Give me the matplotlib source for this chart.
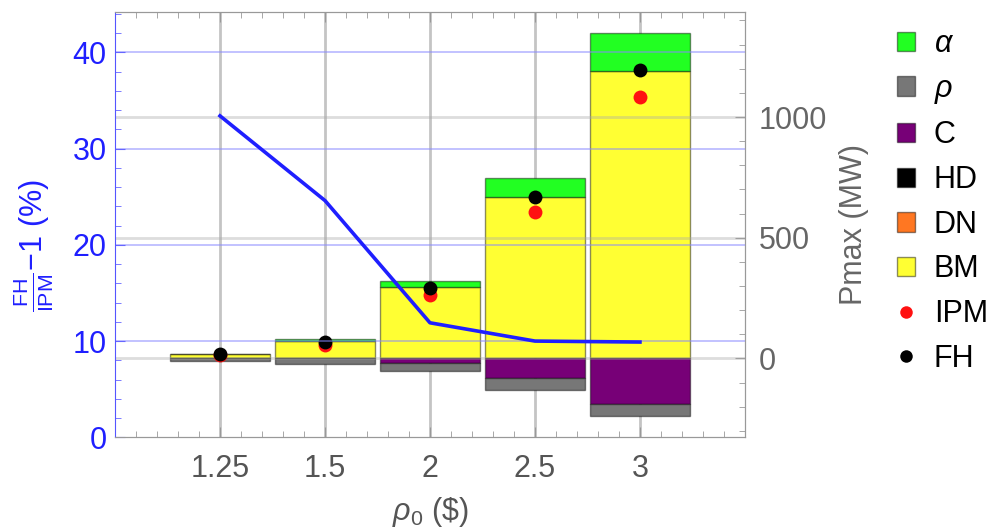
import numpy as np
import matplotlib
matplotlib.use('Agg')
import matplotlib.pyplot as plt
from matplotlib.patches import Patch
from matplotlib.lines import Line2D
from matplotlib.ticker import MultipleLocator, FixedLocator

plt.rcParams['font.family'] = ['Liberation Sans', 'DejaVu Sans']
plt.rcParams['mathtext.fontset'] = 'custom'
plt.rcParams['mathtext.rm'] = 'Liberation Sans'
plt.rcParams['mathtext.it'] = 'Liberation Sans:italic'
plt.rcParams['font.size'] = 22

# dados
rho0 = ['1.25', '1.5', '2', '2.5', '3']
gap_pct = [33.4, 24.6, 11.9, 10.0, 9.9]       # FH/IPM - 1 (%)
bm = [18, 73, 295, 668, 1192]                  # Pmax (MW)
dn = [0, 0, 0, 0, 0]
hd = [0, 0, 0, 0, 0]
alpha_mw = [2, 9, 26, 79, 157]
c_mw = [0, 0, -20, -80, -191]
rho_mw = [-11, -23, -31, -49, -48]
ipm = [15, 55, 264, 607, 1084]
fh = [20, 69, 293, 668, 1196]

col = {'alpha': '#22ff22', 'rho': '#777777', 'C': '#770077', 'HD': '#000000',
       'DN': '#ff7722', 'BM': '#ffff33'}
edge = (0, 0, 0, 0.45)
blue = '#1f1fff'

x = np.arange(1, len(rho0) + 1)
w = 0.96

fig = plt.figure(figsize=(9.93, 5.29), dpi=100)
ax = fig.add_axes([0.1158, 0.1733, 0.6344, 0.804])
ax2 = ax.twinx()
ax.set_zorder(ax2.get_zorder() + 1)
ax.patch.set_visible(False)

# barras empilhadas (eixo direito)
for xi in x:
    ax2.axvline(xi, color='#c4c4c4', lw=2, zorder=0)
ax2.bar(x, bm, width=w, color=col['BM'], edgecolor=edge, lw=1, zorder=2)
b = np.array(bm)
ax2.bar(x, dn, bottom=b, width=w, color=col['DN'], edgecolor=edge, lw=0, zorder=2)
b = b + np.array(dn)
ax2.bar(x, hd, bottom=b, width=w, color=col['HD'], edgecolor=edge, lw=0, zorder=2)
b = b + np.array(hd)
ax2.bar(x, alpha_mw, bottom=b, width=w, color=col['alpha'], edgecolor=edge, lw=1, zorder=2)
ax2.bar(x, c_mw, width=w, color=col['C'], edgecolor=edge, lw=1, zorder=2)
ax2.bar(x, rho_mw, bottom=c_mw, width=w, color=col['rho'], edgecolor=edge, lw=1, zorder=2)
ax2.scatter(x, ipm, s=100, color='#ff1111', zorder=5, linewidths=0)
ax2.scatter(x, fh, s=100, color='black', zorder=6, linewidths=0)
for v in [0, 500, 1000]:
    ax2.axhline(v, color='#aaaaaa', lw=2, alpha=0.4, zorder=3)

# linha azul (eixo esquerdo)
for v in [10, 20, 30, 40]:
    ax.axhline(v, color='#8888ff', lw=1.3, alpha=0.55, zorder=1)
ax.plot(x, gap_pct, color=blue, lw=2.6, zorder=4)

ax.set_xlim(0, 6)
ax.set_ylim(0, 44.19)
ax2.set_ylim(-327, 1435)

ax.xaxis.set_major_locator(FixedLocator(x))
ax.set_xticklabels(rho0)
ax.xaxis.set_minor_locator(MultipleLocator(0.2))
ax.yaxis.set_major_locator(MultipleLocator(10))
ax.yaxis.set_minor_locator(MultipleLocator(2))
ax2.yaxis.set_major_locator(FixedLocator([0, 500, 1000]))
ax2.yaxis.set_minor_locator(MultipleLocator(100))

ax.tick_params(axis='x', which='both', direction='in', top=True, color='#999999',
               labelcolor='#555555', labelsize=22, pad=12)
ax.tick_params(axis='x', which='major', length=7)
ax.tick_params(axis='x', which='minor', length=4)
ax.tick_params(axis='y', which='both', direction='in', right=False, color='#6666ff',
               labelcolor=blue, labelsize=22, pad=6)
ax.tick_params(axis='y', which='major', length=7)
ax.tick_params(axis='y', which='minor', length=4)
ax2.tick_params(axis='y', which='both', direction='in', color='#999999',
                labelcolor='#666666', labelsize=22, pad=10)
ax2.tick_params(axis='y', which='major', length=7)
ax2.tick_params(axis='y', which='minor', length=4)

for s in ['top', 'bottom', 'right']:
    ax.spines[s].set_color('#999999')
    ax2.spines[s].set_color('#999999')
ax.spines['left'].set_color('#5555ff')
ax2.spines['left'].set_visible(False)

ax.set_xlabel(r'$\rho_0$ (\$)', color='#555555', fontsize=22)
ax.xaxis.set_label_coords(0.5, -0.135)
ax.set_ylabel(r'$\frac{\mathrm{FH}}{\mathrm{IPM}}$' + '\u22121 (%)', color=blue, fontsize=22)
ax.yaxis.set_label_coords(-0.093, 0.45)
ax2.set_ylabel('Pmax (MW)', color='#666666', fontsize=22)
ax2.yaxis.set_label_coords(1.15, 0.5)

handles = [Patch(facecolor=col[k], edgecolor=edge, lw=1) for k in ['alpha', 'rho', 'C', 'HD', 'DN', 'BM']]
handles += [Line2D([], [], ls='', marker='o', markersize=9, color='#ff1111', markeredgewidth=0),
            Line2D([], [], ls='', marker='o', markersize=9, color='black', markeredgewidth=0)]
labels = [r'$\alpha$', r'$\rho$', 'C', 'HD', 'DN', 'BM', 'IPM', 'FH']
fig.legend(handles, labels, loc='upper left', bbox_to_anchor=(897 / 993, 1 - 29 / 529),
           frameon=False, fontsize=22, handlelength=0.6, handleheight=0.6,
           handletextpad=0.6, labelspacing=0.48, borderpad=0, borderaxespad=0)

fig.savefig('out.png', dpi=100)
